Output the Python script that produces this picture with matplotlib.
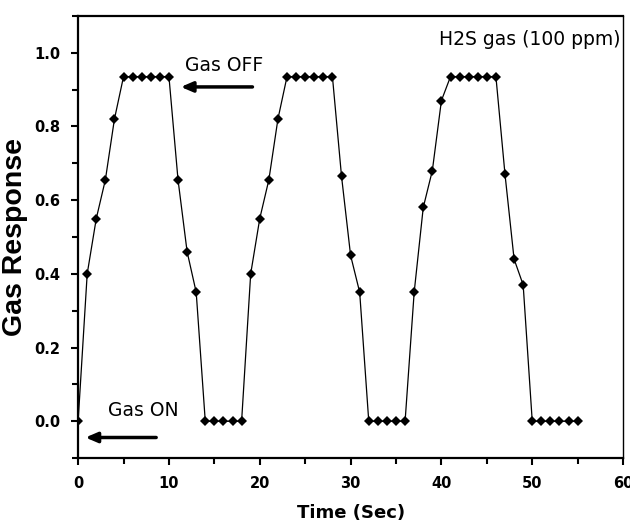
import matplotlib
matplotlib.use("Agg")
import matplotlib.pyplot as plt
from matplotlib.ticker import MultipleLocator

# H2S response cycles (100 ppm)
time_s = list(range(0, 56))
response = [
    0.0, 0.40, 0.55, 0.655, 0.82, 0.935, 0.935, 0.935, 0.935, 0.935, 0.935,
    0.655, 0.46, 0.35, 0.0, 0.0, 0.0, 0.0, 0.0,
    0.40, 0.55, 0.655, 0.82, 0.935, 0.935, 0.935, 0.935, 0.935, 0.935,
    0.665, 0.45, 0.35, 0.0, 0.0, 0.0, 0.0, 0.0,
    0.35, 0.58, 0.68, 0.87, 0.935, 0.935, 0.935, 0.935, 0.935, 0.935,
    0.67, 0.44, 0.37, 0.0, 0.0, 0.0, 0.0, 0.0, 0.0,
]
x_ticks = [0, 10, 20, 30, 40, 50, 60]
y_ticks = [0.0, 0.2, 0.4, 0.6, 0.8, 1.0]

fig = plt.figure(figsize=(6.3, 5.26), dpi=100)
ax = fig.add_axes([0.124, 0.129, 0.865, 0.841])

ax.plot(time_s, response, color="black", linewidth=0.9,
        marker="D", markersize=5.5, markerfacecolor="black", markeredgewidth=0)

ax.set_xlim(0, 60)
ax.set_ylim(-0.1, 1.1)
ax.set_xticks(x_ticks)
ax.set_yticks(y_ticks)
ax.set_xticklabels([str(t) for t in x_ticks])
ax.set_yticklabels([f"{t:.1f}" for t in y_ticks])
ax.xaxis.set_minor_locator(MultipleLocator(5))
ax.yaxis.set_minor_locator(MultipleLocator(0.1))
ax.tick_params(which="both", direction="out", width=1.5, top=False, right=False)
ax.tick_params(which="major", length=5, labelsize=10.5, pad=8)
ax.tick_params(which="minor", length=4)
for lbl in ax.get_xticklabels() + ax.get_yticklabels():
    lbl.set_fontweight("bold")

for side in ["left", "bottom", "top", "right"]:
    ax.spines[side].set_linewidth(1.6)
ax.spines["right"].set_linewidth(1.0)

ax.set_ylabel("Gas Response", fontsize=20.5, fontweight="bold",
              family="Liberation Sans", labelpad=4)
ax.set_xlabel("Time (Sec)", fontsize=13, fontweight="bold", labelpad=9)

ax.text(59.7, 1.035, "H2S gas (100 ppm)", ha="right", va="center", fontsize=13.5)
ax.text(11.8, 0.965, "Gas OFF", ha="left", va="center", fontsize=13.5)
ax.text(3.3, 0.03, "Gas ON", ha="left", va="center", fontsize=13.5)

ax.annotate("", xy=(11.0, 0.907), xytext=(19.5, 0.907),
            arrowprops=dict(arrowstyle="-|>,head_length=0.7,head_width=0.3",
                            color="black", lw=2.5))
ax.annotate("", xy=(0.5, -0.044), xytext=(8.9, -0.044),
            arrowprops=dict(arrowstyle="-|>,head_length=0.7,head_width=0.3",
                            color="black", lw=2.5))

fig.savefig("out.png", dpi=100)
plt.close(fig)
